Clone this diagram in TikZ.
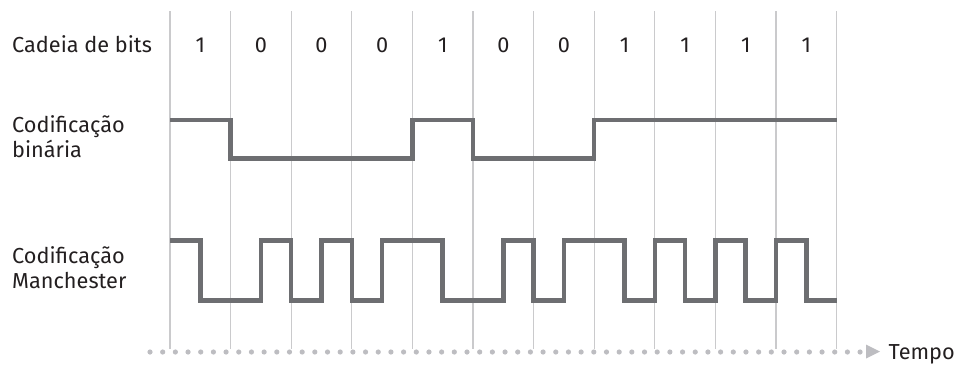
\documentclass[tikz,border=0pt]{standalone}
\usepackage{fontspec}
\setmainfont{Fira Sans}
\definecolor{sig}{HTML}{6D6E71}
\definecolor{gridc}{HTML}{CACACC}
\definecolor{dotc}{HTML}{BDBDC1}
\definecolor{txt}{HTML}{231F20}
\begin{document}
\begin{tikzpicture}[x=1pt,y=-1pt,
  lbl/.style={anchor=base west,inner sep=0pt,text=txt,font=\fontsize{21.7}{25}\selectfont},
  bitlbl/.style={anchor=base,inner sep=0pt,text=txt,font=\fontsize{21.7}{25}\selectfont},
  gridline/.style={draw=gridc,line width=1.3pt},
  signal/.style={draw=sig,line width=4.5pt,line join=miter,line cap=butt},
  dotline/.style={draw=dotc,line width=5.2pt,line cap=round,dash pattern=on 0pt off 12.68pt}]
\useasboundingbox (0,0) rectangle (955,365);
% grid lines
\foreach \i in {0,...,11}{
  \coordinate (gt\i) at ({170+60.6*\i},11);
  \coordinate (gb\i) at ({170+60.6*\i},349);
  \draw[gridline] (gt\i) -- (gb\i);
}
% labels
\node[lbl] (l1) at (12,52.5) {Cadeia de bits};
\node[lbl] (l2a) at (12,132.5) {Codificação};
\node[lbl] (l2b) at (12,157.5) {binária};
\node[lbl] (l3a) at (12,263.5) {Codificação};
\node[lbl] (l3b) at (12,288.5) {Manchester};
% bits
\foreach \b [count=\i from 0] in {1,0,0,0,1,0,0,1,1,1,1}{
  \node[bitlbl] (b\i) at ({200.3+60.6*\i},52.5) {\b};
}
% binary encoding
\draw[signal] (170,120) -- (230.6,120) -- (230.6,158.5) -- (412.4,158.5)
  -- (412.4,120) -- (473.0,120) -- (473.0,158.5) -- (594.2,158.5)
  -- (594.2,120) -- (836.6,120);
% Manchester encoding
\def\H{240.5}\def\L{300.5}
\draw[signal] (170,\H) -- (200.3,\H) -- (200.3,\L) -- (260.9,\L) -- (260.9,\H)
  -- (291.2,\H) -- (291.2,\L) -- (321.5,\L) -- (321.5,\H)
  -- (351.8,\H) -- (351.8,\L) -- (382.1,\L) -- (382.1,\H)
  -- (442.7,\H) -- (442.7,\L) -- (503.3,\L) -- (503.3,\H)
  -- (533.6,\H) -- (533.6,\L) -- (563.9,\L) -- (563.9,\H)
  -- (624.5,\H) -- (624.5,\L) -- (654.8,\L) -- (654.8,\H)
  -- (685.1,\H) -- (685.1,\L) -- (715.4,\L) -- (715.4,\H)
  -- (745.7,\H) -- (745.7,\L) -- (776.0,\L) -- (776.0,\H)
  -- (806.3,\H) -- (806.3,\L) -- (836.6,\L);
% time axis
\coordinate (ts) at (150,352);
\coordinate (te) at (860.5,352);
\draw[dotline] (ts) -- (te);
\fill[dotc] (866,344.5) -- (880,351.5) -- (866,358.5) -- cycle;
\node[lbl] (tempo) at (888.5,359) {Tempo};
\end{tikzpicture}
\end{document}
